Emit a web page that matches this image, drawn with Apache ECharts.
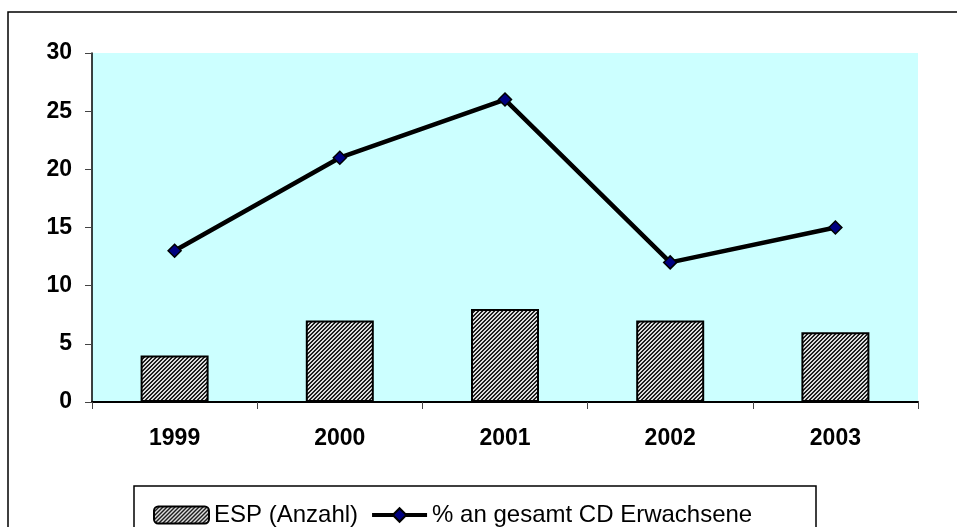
<!DOCTYPE html>
<html>
<head>
<meta charset="utf-8">
<script src="https://cdn.jsdelivr.net/npm/echarts@6/dist/echarts.min.js"></script>
<style>
  html, body { margin: 0; padding: 0; background: #fff; }
  #chart { width: 957px; height: 527px; }
</style>
</head>
<body>
<div id="chart"></div>
<script>
var years = ['1999', '2000', '2001', '2002', '2003'];
var espCount = [4, 7, 8, 7, 6];
var percentCD = [13, 21, 26, 12, 15];
var yTicks = { min: 0, max: 30, interval: 5 };

// schraffur fuer die balken
function hatch() {
  var c = document.createElement('canvas');
  c.width = 4; c.height = 4;
  var ctx = c.getContext('2d');
  var img = ctx.createImageData(4, 4);
  for (var y = 0; y < 4; y++) {
    for (var x = 0; x < 4; x++) {
      var i = (y * 4 + x) * 4;
      var dark = (x + y) % 4 < 2;
      var v = dark ? 30 : 220;
      img.data[i] = v; img.data[i + 1] = v; img.data[i + 2] = v; img.data[i + 3] = 255;
    }
  }
  ctx.putImageData(img, 0, 0);
  return c;
}

var chart = echarts.init(document.getElementById('chart'));
var font = 'Arial, "Liberation Sans", sans-serif';

var option = {
  animation: false,
  grid: { left: 92, right: 39, top: 53, bottom: 125, show: true, backgroundColor: '#CCFFFF', borderWidth: 0 },
  graphic: [
    { type: 'rect', shape: { x: 8, y: 12, width: 1200, height: 800 },
      style: { fill: 'none', stroke: '#000', lineWidth: 1.5 }, z: 0 },
    { type: 'rect', shape: { x: 134, y: 486, width: 682, height: 100 },
      style: { fill: 'none', stroke: '#000', lineWidth: 1.5 }, z: 0 }
  ],
  legend: {
    left: 148, top: 498,
    itemWidth: 55, itemHeight: 17, itemGap: 12,
    textStyle: { fontFamily: font, fontSize: 24, color: '#000' },
    data: [
      { name: 'ESP (Anzahl)' },
      { name: '% an gesamt CD Erwachsene', lineStyle: { width: 4, color: '#000' } }
    ]
  },
  xAxis: {
    type: 'category',
    data: years,
    boundaryGap: true,
    axisLine: { lineStyle: { color: '#000', width: 2 } },
    axisTick: { show: true, length: 7, lineStyle: { color: '#444' } },
    axisLabel: { fontFamily: font, fontSize: 23, fontWeight: 'bold', color: '#000', margin: 25 }
  },
  yAxis: {
    type: 'value',
    min: yTicks.min, max: yTicks.max, interval: yTicks.interval,
    axisLine: { show: true, lineStyle: { color: '#000', width: 1.5 } },
    axisTick: { show: true, length: 7, lineStyle: { color: '#444' } },
    splitLine: { show: false },
    axisLabel: { fontFamily: font, fontSize: 23, fontWeight: 'bold', color: '#000', margin: 20 }
  },
  series: [
    {
      name: 'ESP (Anzahl)',
      type: 'bar',
      data: espCount,
      barWidth: 68,
      itemStyle: {
        color: { image: hatch(), repeat: 'repeat' },
        borderColor: '#000', borderWidth: 2
      }
    },
    {
      name: '% an gesamt CD Erwachsene',
      type: 'line',
      data: percentCD,
      symbol: 'diamond',
      symbolSize: 13,
      lineStyle: { color: '#000', width: 4.5 },
      itemStyle: { color: '#000080', borderColor: '#000', borderWidth: 1.5 },
      z: 5
    }
  ]
};
chart.setOption(option);
</script>
</body>
</html>
